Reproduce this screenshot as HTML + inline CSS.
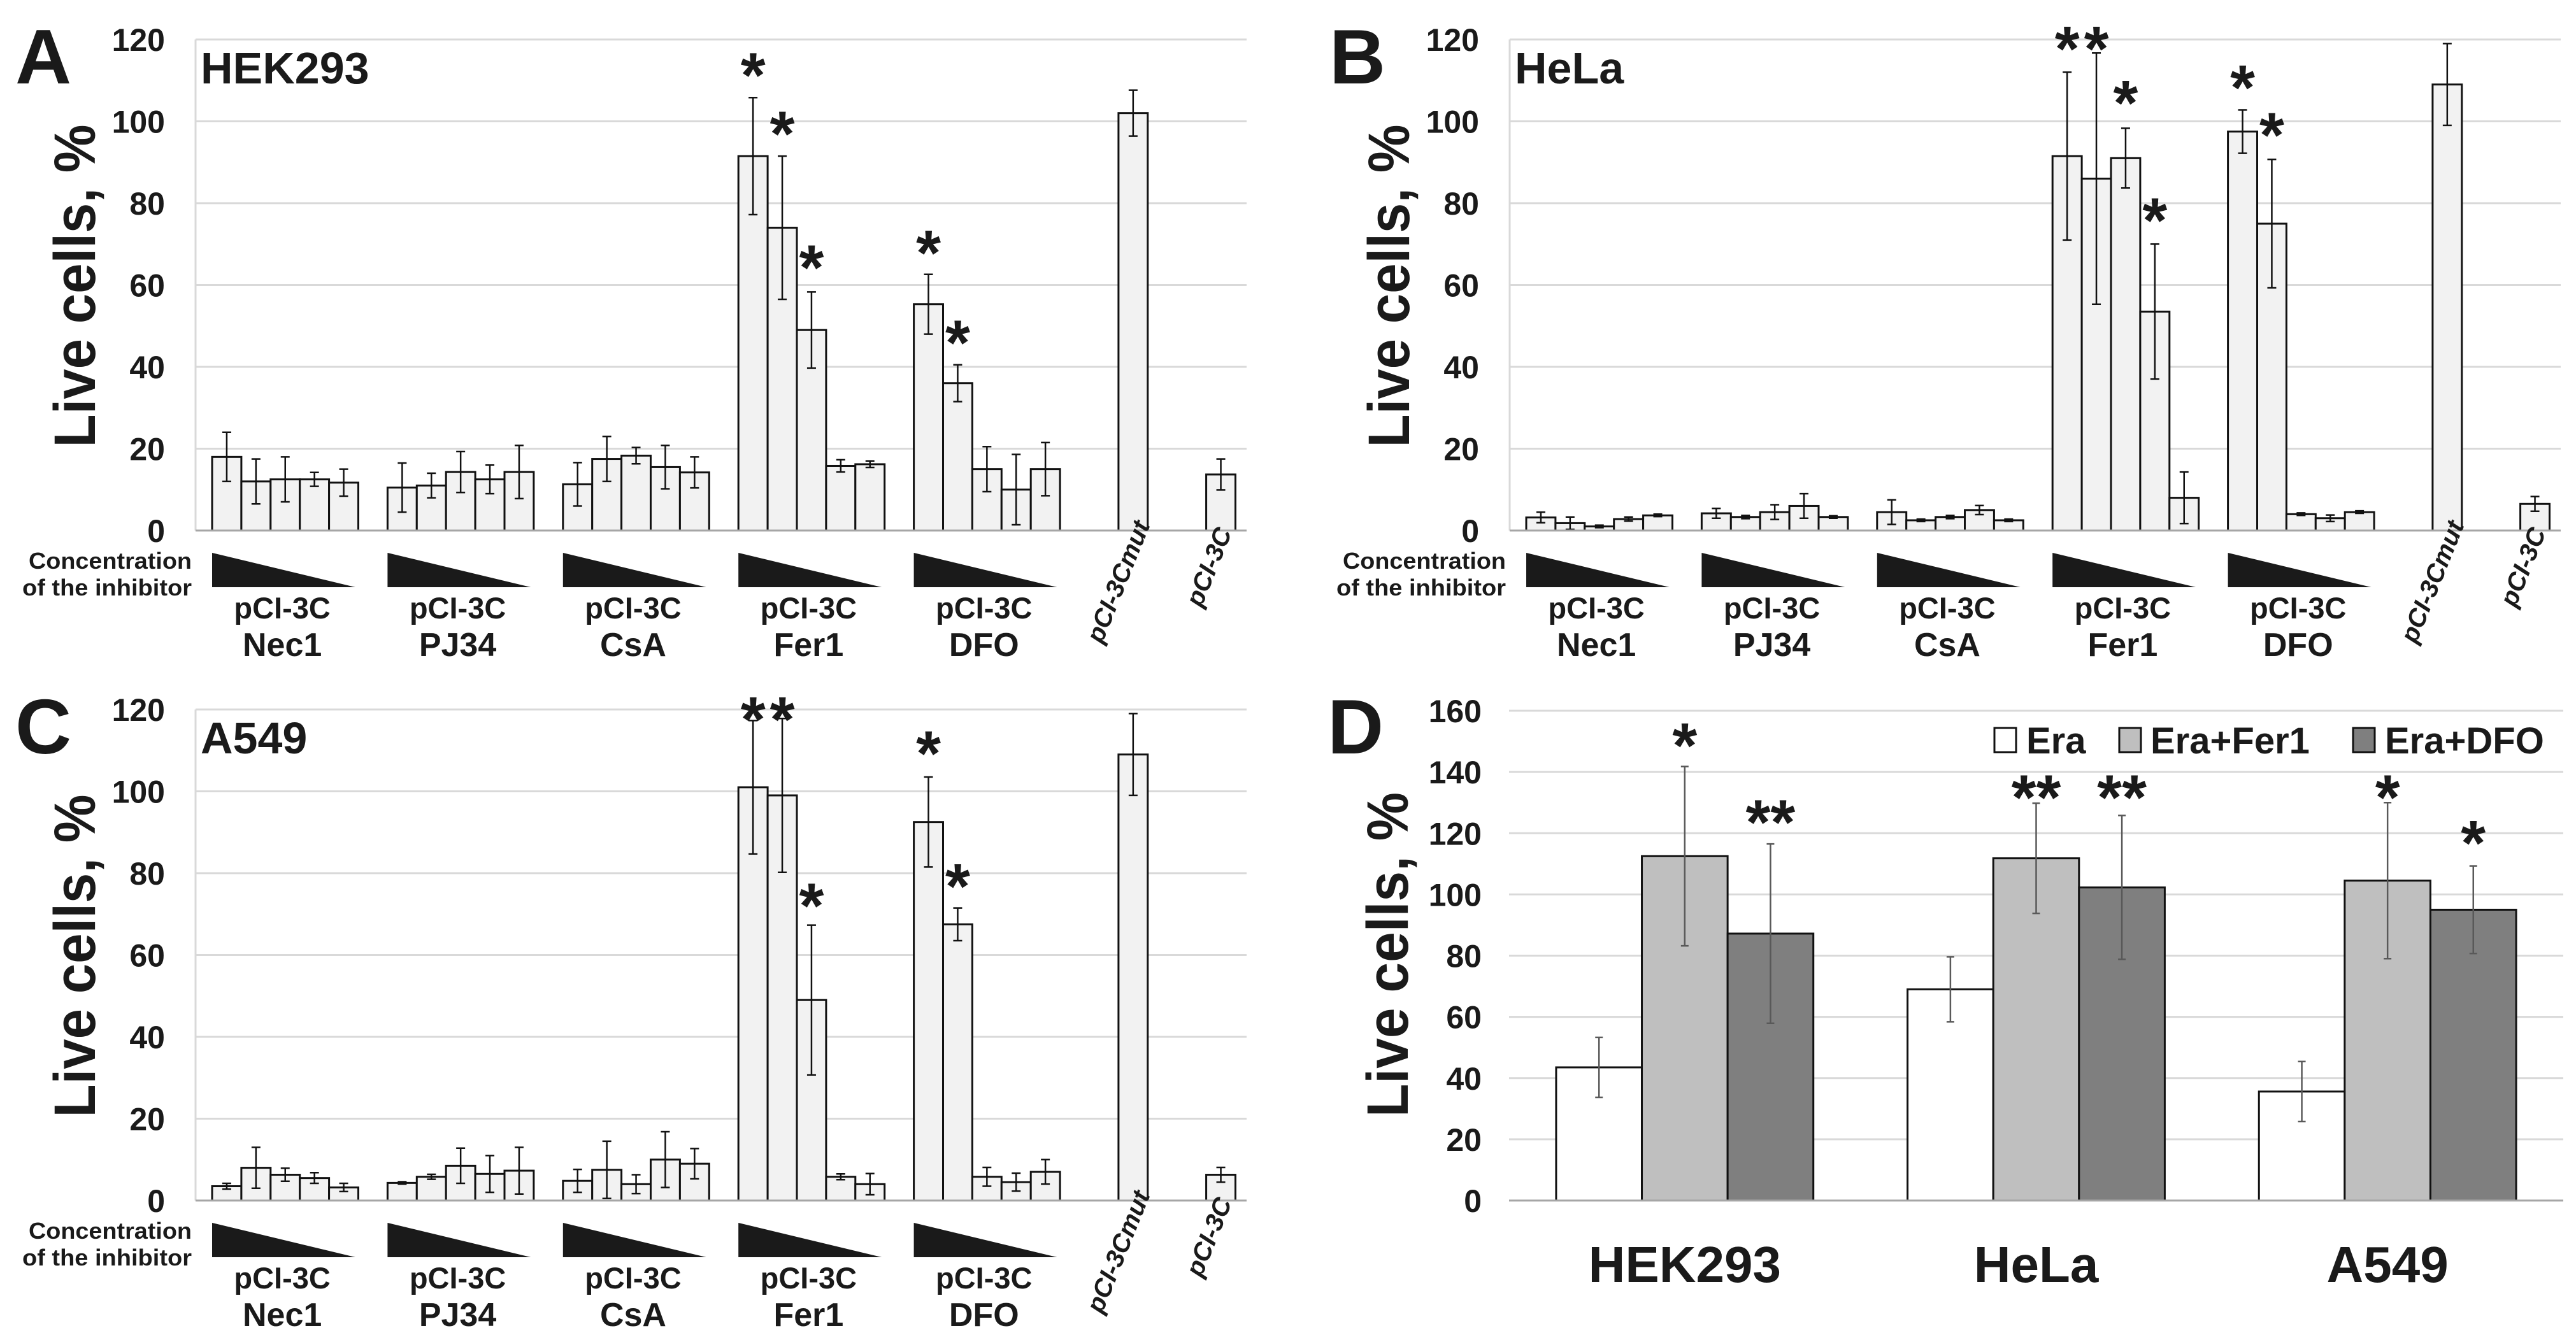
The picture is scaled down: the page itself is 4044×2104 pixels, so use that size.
<!DOCTYPE html>
<html><head><meta charset="utf-8"><style>
html,body{margin:0;padding:0;background:#fff;}
svg{display:block;}
text{font-family:"Liberation Sans",Arial,sans-serif;font-weight:bold;fill:#1a1a1a;}
</style></head><body>
<svg id="fig" width="4044" height="2104" viewBox="0 0 4044 2104" xmlns="http://www.w3.org/2000/svg"></svg>
<script>
// ---- Data panels A-C (5 groups x 5 concentrations, then pCI-3Cmut, pCI-3C) ----
const groupNames = ["Nec1","PJ34","CsA","Fer1","DFO"];
const ctrlNames = ["pCI-3Cmut","pCI-3C"];
const ticksABC = [0,20,40,60,80,100,120];
const valsA = [18,12,12.5,12.5,11.7, 10.5,11,14.3,12.5,14.3, 11.3,17.5,18.3,15.5,14.2, 91.5,74,49,15.8,16.2, 55.3,36,15,10,15, 102,13.7];
const errA  = [6,5.5,5.5,1.7,3.3, 6,3,5,3.5,6.5, 5.3,5.5,2,5.3,3.8, 14.3,17.5,9.3,1.5,0.8, 7.3,4.5,5.5,8.6,6.5, 5.6,3.8];
const starIdxA = [15,16,17,20,21];
const starValA = [114,99.7,67,70.6,48.6];
const valsB = [3.2,1.8,1,2.8,3.7, 4.2,3.3,4.5,6,3.3, 4.5,2.5,3.3,5,2.5, 91.5,86,91,53.5,8, 97.5,75,4,3,4.5, 109,6.5];
const errB  = [1.3,1.5,0.3,0.5,0.3, 1.2,0.4,1.8,3,0.3, 3,0.3,0.4,1.1,0.3, 20.5,30.7,7.3,16.5,6.3, 5.3,15.7,0.3,0.8,0.3, 10,1.8];
const starIdxB = [15,16,17,18,20,21];
const starValB = [120.5,120.5,107.2,78.5,111,99.4];
const valsC = [3.5,8,6.3,5.5,3.2, 4.3,5.8,8.5,6.5,7.3, 4.8,7.5,4,10,9, 101,99,49,5.8,4, 92.5,67.5,5.8,4.5,7, 109,6.3];
const errC  = [0.7,5,1.6,1.3,1, 0.3,0.6,4.3,4.5,5.7, 2.8,7,2.3,6.8,3.7, 16.3,18.8,18.3,0.7,2.6, 11,4,2.3,2.2,3, 10,1.8];
const starIdxC = [15,16,17,20,21];
const starValC = [120.3,120.3,74.8,112,79.5];
// ---- Data panel D ----
const cellLines = ["HEK293","HeLa","A549"];
const seriesD = ["Era","Era+Fer1","Era+DFO"];
const ticksD = [0,20,40,60,80,100,120,140,160];
const eraVals = [43.5,69,35.6];
const eraErr = [9.8,10.6,9.8];
const fer1Vals = [112.5,111.8,104.5];
const fer1Err = [29.3,18,25.5];
const dfoVals = [87.2,102.3,95];
const dfoErr = [29.3,23.5,14.3];
const starsD = ["", "*", "**", "", "**", "**", "", "*", "*"];
const starValD = [0,152.3,127.2,0,135.3,135.3,0,135.3,120.5];

const NS="http://www.w3.org/2000/svg";
const svg=document.getElementById('fig');
function el(tag,attrs,parent,txt){const e=document.createElementNS(NS,tag);for(const k in attrs)e.setAttribute(k,attrs[k]);if(txt!==undefined)e.textContent=txt;(parent||svg).appendChild(e);return e;}

function panel(ox,oy,letter,title,vals,errs,starIdx,starVal,key){
  const g=el('g',{transform:`translate(${ox},${oy})`});
  
  
  const L=307,R=1957,Y0=833,YT=62;
  const y=v=>Y0-v*(Y0-YT)/120;
  const X0=333,S=45.9;
  const slot=i=>i<25?Math.floor(i/5)*6+(i%5):(i===25?31:34);
  const x=i=>X0+slot(i)*S;
  ticksABC.forEach(t=>{
    if(t>0){const gl=el('line',{x1:L,x2:R,y1:y(t),y2:y(t),stroke:'#d9d9d9','stroke-width':3},g);
      }
    const tl=el('text',{x:259,y:y(t)+18,'text-anchor':'end','font-size':50},g,String(t));
    
  });
  const la=el('line',{x1:L,x2:L,y1:YT,y2:Y0,stroke:'#d9d9d9','stroke-width':3},g);
  
  vals.forEach((v,i)=>{
    const b=el('rect',{x:x(i),y:y(v),width:S,height:Y0-y(v),fill:'#f2f2f2',stroke:'#111','stroke-width':3},g);
    
    const cx=x(i)+S/2,e=errs[i];
    const eb=el('path',{d:`M${cx},${y(v-e)}V${y(v+e)}M${cx-7},${y(v-e)}H${cx+7}M${cx-7},${y(v+e)}H${cx+7}`,stroke:'#111','stroke-width':2.5,fill:'none'},g);
    
  });
  const ax=el('line',{x1:L,x2:R,y1:Y0,y2:Y0,stroke:'#a6a6a6','stroke-width':3},g);
  
  starIdx.forEach((bi,k)=>{
    const s=el('text',{x:x(bi)+S/2,y:y(starVal[k])+52,'text-anchor':'middle','font-size':100},g,'*');
    
  });
  groupNames.forEach((n,gi)=>{
    const x0=X0+gi*6*S, x1=x0+4.9*S;
    const tr=el('polygon',{points:`${x0},868 ${x0},922 ${x1},922`,fill:'#1a1a1a'},g);
    
    const c=x0+2.4*S;
    const t1=el('text',{x:c,y:971,'text-anchor':'middle','font-size':47},g,'pCI-3C');
    
    const t2=el('text',{x:c,y:1030,'text-anchor':'middle','font-size':52},g,n);
    
  });
  const c1=el('text',{x:301,y:893,'text-anchor':'end','font-size':36,textLength:256,lengthAdjust:'spacingAndGlyphs'},g,'Concentration');
  
  const c2=el('text',{x:301,y:935,'text-anchor':'end','font-size':36,textLength:266,lengthAdjust:'spacingAndGlyphs'},g,'of the inhibitor');
  
  const r1=el('text',{transform:'translate(1730,1012) rotate(-68)','font-size':40,'font-style':'italic'},g,ctrlNames[0]);
  
  const r2=el('text',{transform:'translate(1886,955) rotate(-68)','font-size':40,'font-style':'italic'},g,ctrlNames[1]);
  
  const yt=el('text',{transform:'translate(149,449) rotate(-90)','text-anchor':'middle','font-size':92,textLength:507,lengthAdjust:'spacingAndGlyphs'},g,'Live cells, %');
  
  const pl=el('text',{x:24,y:131,'font-size':122},g,letter);
  
  const ti=el('text',{x:315,y:131,'font-size':70},g,title);
  
}
panel(0,0,'A','HEK293',valsA,errA,starIdxA,starValA,'a');
panel(2063,0,'B','HeLa',valsB,errB,starIdxB,starValB,'b');
panel(0,1052,'C','A549',valsC,errC,starIdxC,starValC,'c');

(function(){
  const g=el('g',{});
  
  
  const L=2369,R=4024,Y0=1885,YT=1116;
  const y=v=>Y0-v*(Y0-YT)/160;
  const CW=(R-L)/3,BW=134.6;
  ticksD.forEach(t=>{
    if(t>0){const gl=el('line',{x1:L,x2:R,y1:y(t),y2:y(t),stroke:'#d9d9d9','stroke-width':3},g);
      }
    const tl=el('text',{x:2326,y:y(t)+18,'text-anchor':'end','font-size':50},g,String(t));
    
  });
  const series=[[eraVals,eraErr,'#ffffff'],[fer1Vals,fer1Err,'#bfbfbf'],[dfoVals,dfoErr,'#7f7f7f']];
  cellLines.forEach((c,ci)=>{
    const gx=L+CW*(ci+0.5)-1.5*BW;
    series.forEach((s,si)=>{
      const v=s[0][ci],e=s[1][ci],bx=gx+si*BW;
      const b=el('rect',{x:bx,y:y(v),width:BW,height:Y0-y(v),fill:s[2],stroke:'#111','stroke-width':3},g);
      
      
      const cx=bx+BW/2;
      const eb=el('path',{d:`M${cx},${y(v-e)}V${y(v+e)}M${cx-6},${y(v-e)}H${cx+6}M${cx-6},${y(v+e)}H${cx+6}`,stroke:'#595959','stroke-width':2.5,fill:'none'},g);
      
      const k=ci*3+si;
      if(starsD[k]){const st=el('text',{x:cx,y:y(starValD[k])+52,'text-anchor':'middle','font-size':100},g,starsD[k]);
        }
    });
    const cl=el('text',{x:L+CW*(ci+0.5),y:2013,'text-anchor':'middle','font-size':80},g,c);
    
  });
  const ax=el('line',{x1:L,x2:R,y1:Y0,y2:Y0,stroke:'#a6a6a6','stroke-width':3},g);
  
  const keys=[[3131,3181,'#ffffff'],[3327,3376,'#bfbfbf'],[3694,3744,'#7f7f7f']];
  keys.forEach((k,i)=>{
    const r=el('rect',{x:k[0],y:1143,width:34,height:38,fill:k[2],stroke:'#111','stroke-width':3},g);
    
    const t=el('text',{x:k[1],y:1183,'font-size':58},g,seriesD[i]);
    
  });
  const yt=el('text',{transform:'translate(2210,1499) rotate(-90)','text-anchor':'middle','font-size':92,textLength:510,lengthAdjust:'spacingAndGlyphs'},g,'Live cells, %');
  
  const pl=el('text',{x:2084,y:1183,'font-size':122},g,'D');
  
})();
</script>
</body></html>
